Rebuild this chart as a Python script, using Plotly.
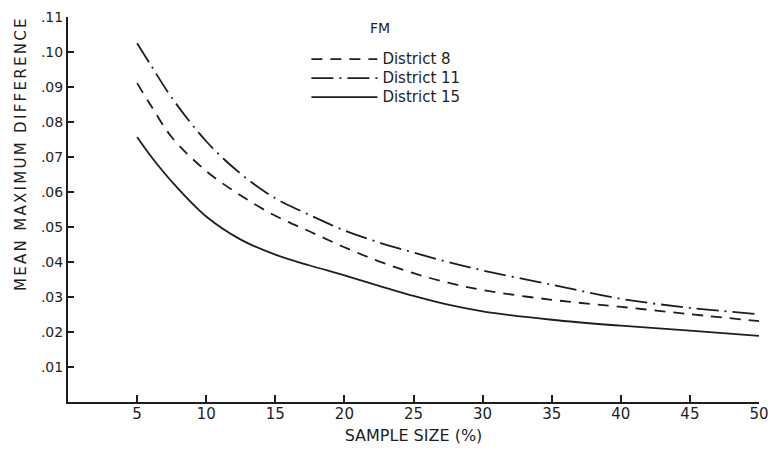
import plotly.graph_objects as go

# Sample size (%)
x_vals = [5, 6, 7.5, 10, 12.5, 15, 17.5, 20, 22.5, 25, 27.5, 30, 35, 40, 45, 50]

district_8 = [0.0911, 0.0847, 0.0757, 0.0660, 0.0590, 0.0532, 0.0487, 0.0442,
              0.0402, 0.0368, 0.0341, 0.0320, 0.0292, 0.0272, 0.0251, 0.0231]
district_11 = [0.1025, 0.0962, 0.0870, 0.0745, 0.0652, 0.0582, 0.0534, 0.0490,
               0.0456, 0.0427, 0.0400, 0.0376, 0.0335, 0.0295, 0.0269, 0.0251]
district_15 = [0.0757, 0.0702, 0.0630, 0.0530, 0.0464, 0.0421, 0.0390, 0.0362,
               0.0332, 0.0303, 0.0278, 0.0259, 0.0235, 0.0218, 0.0204, 0.0189]

x_ticks = [5, 10, 15, 20, 25, 30, 35, 40, 45, 50]
y_ticks = [0.01, 0.02, 0.03, 0.04, 0.05, 0.06, 0.07, 0.08, 0.09, 0.10, 0.11]
y_ticktext = [".01", ".02", ".03", ".04", ".05", ".06", ".07", ".08", ".09", ".10", ".11"]

INK = "#1e1e1e"
FONT = "DejaVu Sans"

def legend_name(s):
    return '<span style="font-size:15px">' + s + '</span>'

fig = go.Figure()
fig.add_trace(go.Scatter(x=x_vals, y=district_8, mode="lines", name=legend_name("District 8"),
                         line=dict(color=INK, width=1.8, dash="11px,8px", shape="spline")))
fig.add_trace(go.Scatter(x=x_vals, y=district_11, mode="lines", name=legend_name("District 11"),
                         line=dict(color=INK, width=1.8, dash="22px,6px,2px,6px", shape="spline")))
fig.add_trace(go.Scatter(x=x_vals, y=district_15, mode="lines", name=legend_name("District 15"),
                         line=dict(color=INK, width=1.8, shape="spline")))

fig.update_layout(
    width=770, height=451,
    margin=dict(l=68, r=11, t=17, b=49),
    paper_bgcolor="white", plot_bgcolor="white",
    font=dict(family=FONT, color=INK),
    showlegend=True,
    legend=dict(
        x=0.345, y=0.928, xanchor="left", yanchor="top",
        bgcolor="rgba(0,0,0,0)",
        font=dict(size=11.5, family=FONT, color=INK),
        tracegroupgap=0, itemwidth=66,
    ),
    xaxis=dict(
        range=[0, 50], tickvals=x_ticks, ticks="inside", ticklen=7, tickwidth=1.5,
        tickcolor=INK, showline=True, linecolor=INK, linewidth=2, showgrid=False,
        zeroline=False, automargin=False, ticklabelstandoff=-3,
        tickfont=dict(size=15, family=FONT, color=INK),
        title=dict(text="SAMPLE SIZE (%)", font=dict(size=16, family=FONT, color=INK), standoff=8),
    ),
    yaxis=dict(
        range=[0, 0.11], tickvals=y_ticks, ticktext=y_ticktext, ticks="inside",
        ticklen=6, tickwidth=1.5, tickcolor=INK, showline=True, linecolor=INK,
        linewidth=2, showgrid=False, zeroline=False, automargin=False,
        tickfont=dict(size=14, family=FONT, color=INK),
    ),
    annotations=[
        dict(
            text='<span style="letter-spacing:2.3px">MEAN MAXIMUM DIFFERENCE</span>',
            xref="paper", yref="paper",
            x=-0.069, y=0.645, xanchor="center", yanchor="middle", textangle=-90,
            showarrow=False, font=dict(size=15, family=FONT, color=INK),
        ),
        dict(
            text="FM", xref="paper", yref="paper",
            x=0.452, y=0.971, xanchor="center", yanchor="middle",
            showarrow=False, font=dict(size=14, family=FONT, color=INK),
        ),
    ],
)

fig.write_html("out.html")
